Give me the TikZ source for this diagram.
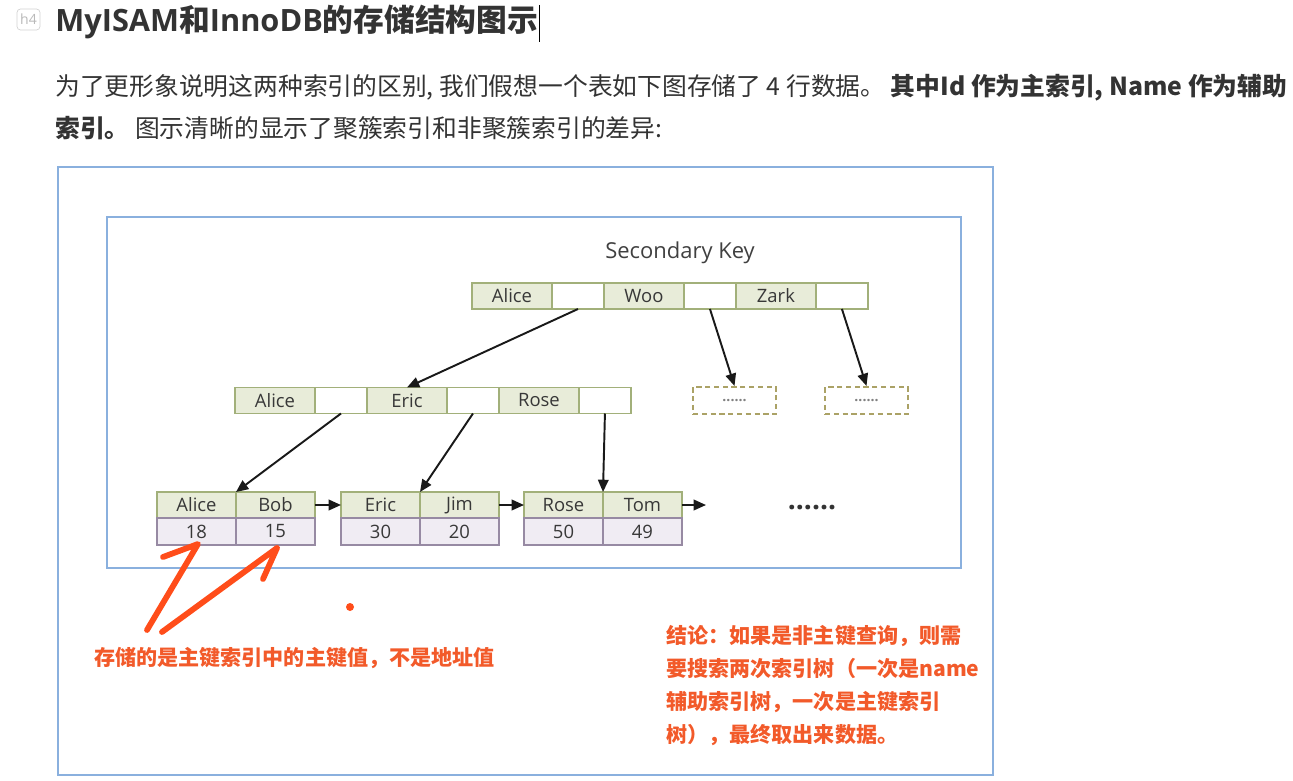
\documentclass[tikz,border=0pt]{standalone}
\usepackage{fontspec}
\setmainfont{Open Sans}
\newfontfamily\cjk{Noto Sans CJK SC}
\usetikzlibrary{arrows.meta, positioning, calc}
\definecolor{kframe}{HTML}{8AB0DE}
\definecolor{kline}{HTML}{A2B07A}
\definecolor{kfill}{HTML}{E8ECD9}
\definecolor{vline}{HTML}{978AA3}
\definecolor{vfill}{HTML}{F0ECF3}
\definecolor{dline}{HTML}{ABA266}
\definecolor{mtext}{HTML}{333333}
\definecolor{mnote}{HTML}{F25A2A}
\definecolor{mstroke}{HTML}{FF4D1A}
\tikzset{
  kcell/.style={draw=kline, fill=kfill, line width=1.1pt, minimum width=1.6cm,
                minimum height=0.52cm, inner sep=0pt, outer sep=0pt,
                font=\fontsize{10.5}{12}\selectfont, text=black!78},
  pcell/.style={kcell, fill=white, minimum width=1.04cm},
  lkey/.style={kcell, minimum width=1.58cm},
  lval/.style={lkey, draw=vline, fill=vfill, minimum height=0.54cm},
  dotbox/.style={draw=dline, densely dashed, line width=1.2pt, minimum width=1.66cm,
                 minimum height=0.54cm, inner sep=0pt, font=\bfseries\fontsize{8}{9}\selectfont, text=gray},
  arr/.style={-{Triangle[length=7pt,width=6pt]}, line width=1.1pt, black!90},
  note/.style={font=\cjk\bfseries\fontsize{12}{18.7}\selectfont, text=mnote, align=left},
  hand/.style={mstroke, line width=3.3pt, line cap=round, line join=round},
}

\begin{document}
\begin{tikzpicture}[x=0.02cm, y=-0.02cm]
  \useasboundingbox (0,0) rectangle (1293,780);

  \node[draw=gray!35, rounded corners=2pt, minimum width=0.46cm, minimum height=0.42cm,
        inner sep=0pt, font=\fontsize{8}{9}\selectfont, text=gray!55] (badge) at (28.5,19.5) {h4};
  \node[anchor=west, inner sep=0pt, font=\bfseries\fontsize{17.5}{20}\selectfont, text=mtext]
        (title) at (55,22) {MyISAM{\cjk 和}InnoDB{\cjk 的存储结构图示}};
  \draw[black, line width=0.7pt] ($(title.east)+(1,-17)$) -- ($(title.east)+(1,20)$);

  \node[anchor=west, inner sep=0pt, font=\cjk\fontsize{14.1}{16}\selectfont, text=mtext]
        (par1) at (55,88) {为了更形象说明这两种索引的区别, 我们假想一个表如下图存储了 4 行数据。 \textbf{其中Id 作为主索引, Name 作为辅助}};
  \node[anchor=west, inner sep=0pt, font=\cjk\fontsize{14.1}{16}\selectfont, text=mtext]
        (par2) at (55,128) {\textbf{索引。} 图示清晰的显示了聚簇索引和非聚簇索引的差异:};

  \draw[kframe, line width=1.4pt] (58,167) rectangle (993,775);
  \draw[kframe, line width=1.4pt] (107,217) rectangle (961,568);

  \node[font=\fontsize{12.5}{14}\selectfont, text=black!75] (skey) at (680,253) {Secondary Key};

  % root
  \node[kcell, anchor=west] (ta) at (472,296) {Alice};
  \node[pcell, right=0pt of ta] (tap) {};
  \node[kcell, right=0pt of tap] (tw) {Woo};
  \node[pcell, right=0pt of tw] (twp) {};
  \node[kcell, right=0pt of twp] (tz) {Zark};
  \node[pcell, right=0pt of tz] (tzp) {};

  % second level
  \node[kcell, anchor=west] (ma) at (235,400.5) {Alice};
  \node[pcell, right=0pt of ma] (map) {};
  \node[kcell, right=0pt of map] (me) {Eric};
  \node[pcell, right=0pt of me] (mep) {};
  \node[kcell, right=0pt of mep] (mr) {Rose};
  \node[pcell, right=0pt of mr] (mrp) {};

  \node[dotbox] (d1) at (734.5,400.5) {......};
  \node[dotbox] (d2) at (866.5,400.5) {......};

  % leaves
  \node[lkey, anchor=west] (l1a) at (157,505) {Alice};
  \node[lkey, right=0pt of l1a] (l1b) {Bob};
  \node[lval, below=0pt of l1a] (v1a) {18};
  \node[lval, below=0pt of l1b] (v1b) {15};
  \node[lkey, anchor=west] (l2a) at (341,505) {Eric};
  \node[lkey, right=0pt of l2a] (l2b) {Jim};
  \node[lval, below=0pt of l2a] (v2a) {30};
  \node[lval, below=0pt of l2b] (v2b) {20};
  \node[lkey, anchor=west] (l3a) at (524,505) {Rose};
  \node[lkey, right=0pt of l3a] (l3b) {Tom};
  \node[lval, below=0pt of l3a] (v3a) {50};
  \node[lval, below=0pt of l3b] (v3b) {49};
  \coordinate (lnext) at (706,505);
  \node[font=\bfseries\fontsize{16}{18}\selectfont, text=black!80] (etc) at (812,508) {......};

  \draw[arr] (tap.south) -- (me.north);
  \draw[arr] (twp.south) -- (d1.north);
  \draw[arr] (tzp.south) -- (d2.north);
  \draw[arr] (map.south) -- (l1a.north east);
  \draw[arr] (mep.south) -- (l2a.north east);
  \draw[arr] (mrp.south) -- (l3a.north east);
  \draw[arr] (l1b.east) -- (l2a.west);
  \draw[arr] (l2b.east) -- (l3a.west);
  \draw[arr] (l3b.east) -- (lnext);

  % hand marks
  \draw[hand] (147,630) -- (198,544) -- (163,557);
  \draw[hand] (162,632) -- (277,548) -- (263,579);
  \fill[mstroke] (350,607) circle (4);

  \node[note, anchor=west] (pkval) at (88,658) {存储的是主键索引中的主键值，不是地址值};
  \node[note, anchor=north west, inner sep=0pt] (concl) at (666,625)
        {结论：如果是非主键查询，则需\\要搜索两次索引树（一次是name\\辅助索引树，一次是主键索引\\树），最终取出来数据。};
\end{tikzpicture}
\end{document}
